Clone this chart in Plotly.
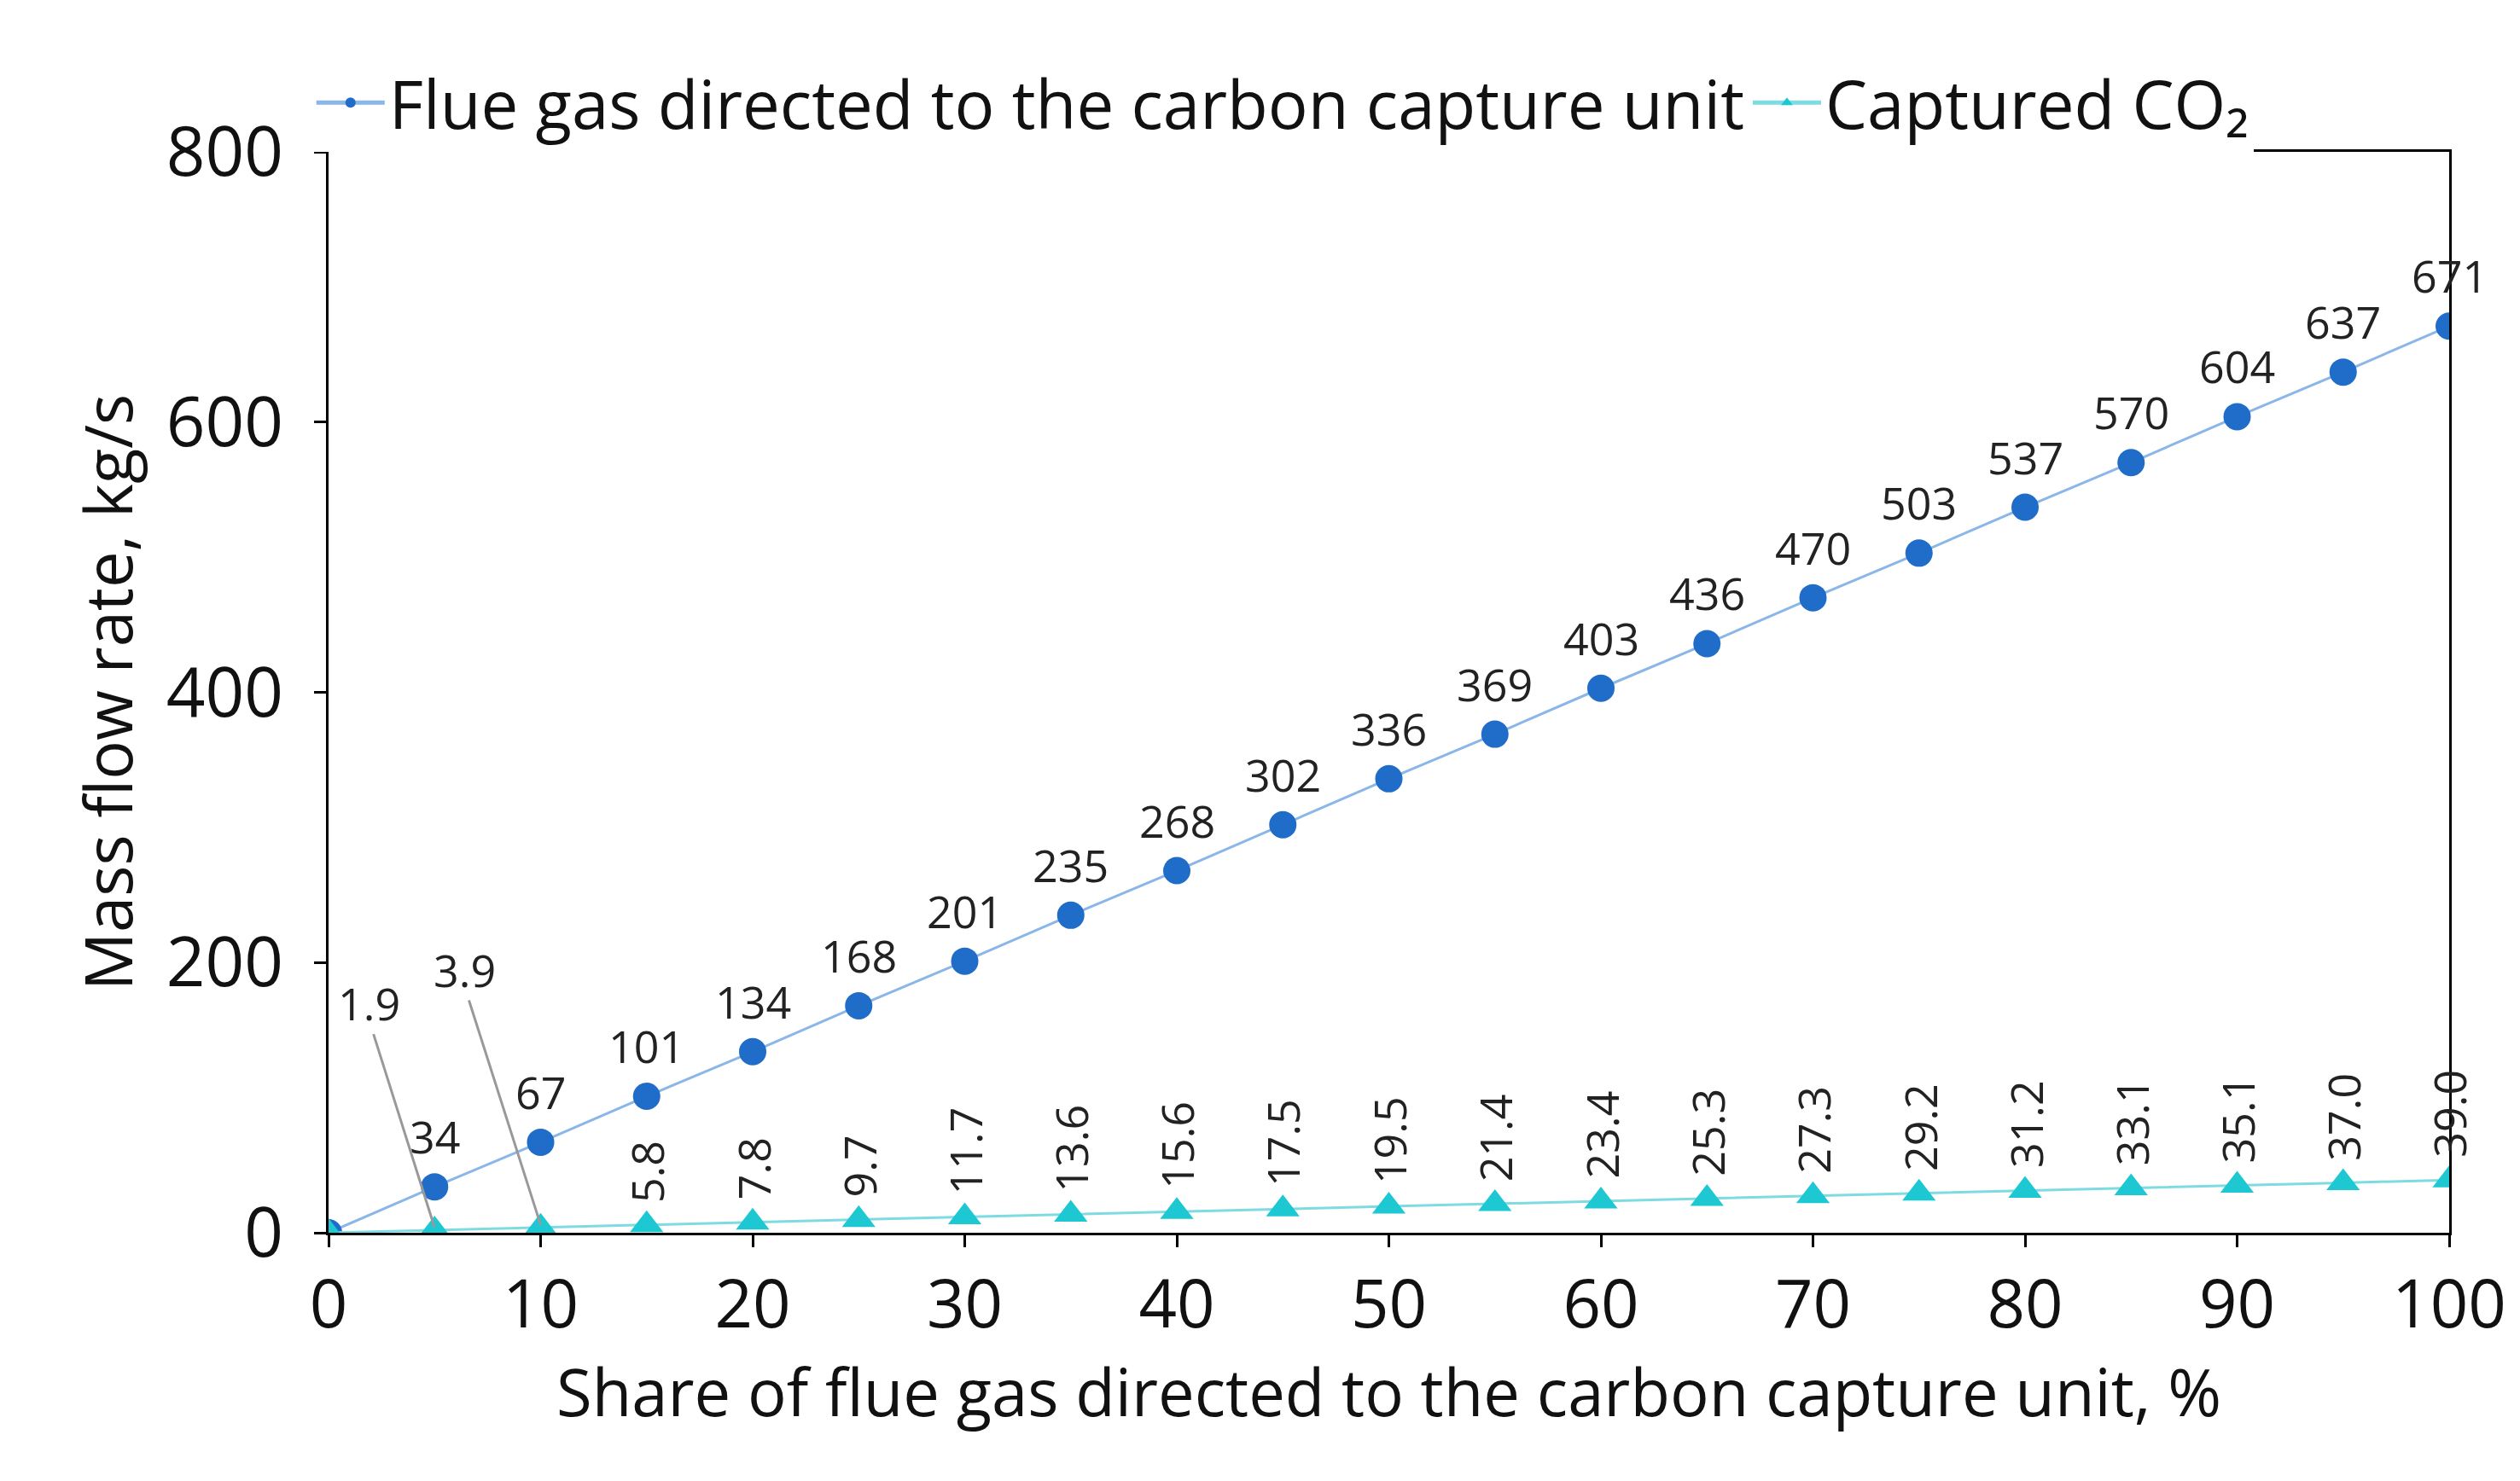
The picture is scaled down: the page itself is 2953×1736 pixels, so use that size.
import plotly.graph_objects as go

share = [0, 5, 10, 15, 20, 25, 30, 35, 40, 45, 50, 55, 60, 65, 70, 75, 80, 85, 90, 95, 100]
flue_gas = [0, 34, 67, 101, 134, 168, 201, 235, 268, 302, 336, 369, 403, 436, 470, 503, 537, 570, 604, 637, 671]
co2 = [0, 1.9, 3.9, 5.8, 7.8, 9.7, 11.7, 13.6, 15.6, 17.5, 19.5, 21.4, 23.4, 25.3, 27.3, 29.2, 31.2, 33.1, 35.1, 37.0, 39.0]

FONT = "Open Sans"
BLUE = "#1f6cc9"
CYAN = "#1ec8d2"

fig = go.Figure()
fig.add_trace(go.Scatter(x=share, y=flue_gas, mode="lines+markers",
                         name="Flue gas directed to the carbon capture unit",
                         line=dict(color="#8ab6e8", width=3),
                         marker=dict(color=BLUE, size=32, symbol="circle")))
fig.add_trace(go.Scatter(x=share, y=co2, mode="lines+markers",
                         name="Captured CO₂",
                         line=dict(color="#7fdbe2", width=3),
                         marker=dict(color=CYAN, size=34, symbol="triangle-up")))

ann = []
for x, y in zip(share[1:], flue_gas[1:]):
    ann.append(dict(x=x, y=y, text=str(y), showarrow=False, yanchor="bottom",
                    yshift=22, font=dict(size=52, color="#222")))
for x, y in zip(share[3:], co2[3:]):
    ann.append(dict(x=x, y=y, text=f"{y:.1f}", showarrow=False, textangle=-90,
                    yanchor="bottom", yshift=24, font=dict(size=52, color="#222")))
# leader-lined labels for the two smallest values
for x, y, lx, ly in [(5, 1.9, 1.9, 170), (10, 3.9, 6.4, 195)]:
    ann.append(dict(x=x, y=y + 2, ax=lx + 0.2, ay=ly - 22, axref="x", ayref="y",
                    text="", showarrow=True, arrowhead=0, arrowwidth=3, arrowcolor="#999"))
    ann.append(dict(x=lx, y=ly, text=f"{y:.1f}", showarrow=False,
                    font=dict(size=52, color="#222")))

fig.update_layout(
    width=2953, height=1736,
    paper_bgcolor="white", plot_bgcolor="white",
    margin=dict(l=377, r=91, t=170, b=299),
    font=dict(family=FONT, color="#111"),
    annotations=ann,
    legend=dict(orientation="h", x=0.45, xanchor="center", y=1.0, yanchor="bottom",
                font=dict(size=78), itemsizing="constant", itemwidth=80),
    xaxis=dict(range=[0, 100], dtick=10, ticks="outside", ticklen=14, tickwidth=3,
               tickcolor="black", showgrid=False, showline=True, linecolor="black",
               linewidth=3, mirror=True, tickfont=dict(size=78),
               title=dict(text="Share of flue gas directed to the carbon capture unit, %",
                          font=dict(size=76))),
    yaxis=dict(range=[0, 800], dtick=200, ticks="outside", ticklen=14, tickwidth=3,
               tickcolor="black", showgrid=False, showline=True, linecolor="black",
               linewidth=3, mirror=True, tickfont=dict(size=80), ticklabelstandoff=20,
               title=dict(text="Mass flow rate, kg/s", font=dict(size=76))),
)

fig.write_html("out.html")
